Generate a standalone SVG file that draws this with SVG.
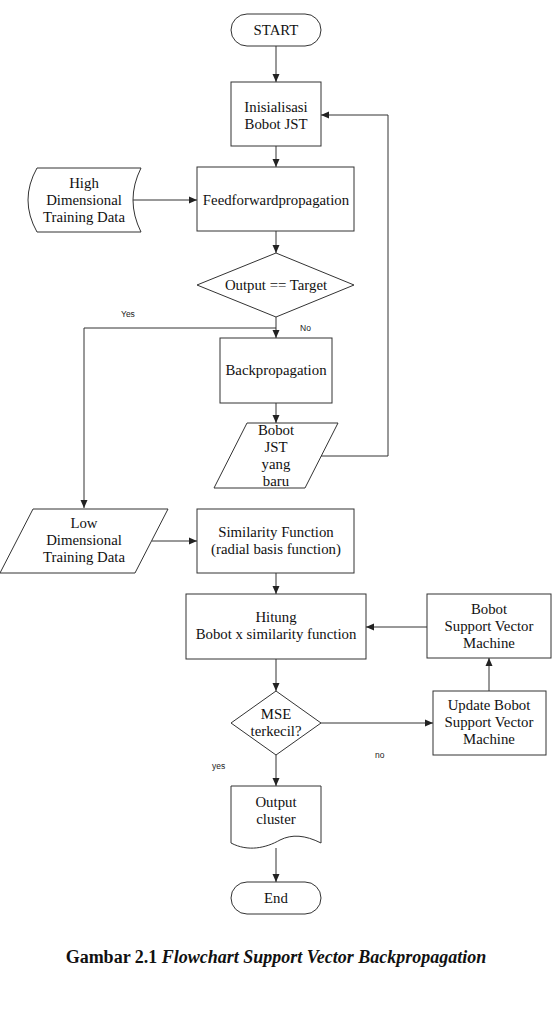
<svg xmlns="http://www.w3.org/2000/svg" width="554" height="1031" viewBox="0 0 554 1031">
<style>
.s{fill:#fff;stroke:#333;stroke-width:1}
.t{font-family:"Liberation Serif","Times New Roman",serif;font-size:14.8px;fill:#111;text-anchor:middle}
.l{font-family:"Liberation Sans",Arial,sans-serif;font-size:8.5px;fill:#222}
.c{fill:none;stroke:#333;stroke-width:1}
.cap{font-family:"Liberation Serif","Times New Roman",serif;font-size:18px;font-weight:bold;fill:#111;text-anchor:middle}
</style>
<defs>
<marker id="a" viewBox="0 0 8 8" refX="8" refY="4" markerWidth="8" markerHeight="8" markerUnits="userSpaceOnUse" orient="auto">
<path d="M0,0.5 L8,4 L0,7.5 Z" fill="#222"/>
</marker>
</defs>
<rect width="554" height="1031" fill="#fff"/>
<g id="connectors">
<path class="c" d="M276,46 V82" marker-end="url(#a)"/>
<path class="c" d="M276,146 V167" marker-end="url(#a)"/>
<path class="c" d="M133,200 H197" marker-end="url(#a)"/>
<path class="c" d="M276,231 V253" marker-end="url(#a)"/>
<path class="c" d="M276,317 V338" marker-end="url(#a)"/>
<path class="c" d="M276,328 H84 V508" marker-end="url(#a)"/>
<path class="c" d="M276,403 V423" marker-end="url(#a)"/>
<path class="c" d="M318,456 H388 V115 H321" marker-end="url(#a)"/>
<path class="c" d="M152,541 H197" marker-end="url(#a)"/>
<path class="c" d="M276,573 V594" marker-end="url(#a)"/>
<path class="c" d="M427,627 H366" marker-end="url(#a)"/>
<path class="c" d="M276,659 V691" marker-end="url(#a)"/>
<path class="c" d="M321,723 H433" marker-end="url(#a)"/>
<path class="c" d="M489,691 V658" marker-end="url(#a)"/>
<path class="c" d="M276,755 V786" marker-end="url(#a)"/>
<path class="c" d="M276,848 V882" marker-end="url(#a)"/>
<text class="l" x="121" y="317">Yes</text>
<text class="l" x="300" y="331">No</text>
<text class="l" x="375" y="758">no</text>
<text class="l" x="212" y="769">yes</text>
</g>
<g id="start">
<rect class="s" x="231" y="14" width="90" height="32" rx="16"/>
<text class="t" x="276" y="35">START</text>
</g>
<g id="init">
<rect class="s" x="231" y="82" width="90" height="64"/>
<text class="t" x="276" y="112">Inisialisasi</text>
<text class="t" x="276" y="129">Bobot JST</text>
</g>
<g id="highdata">
<path class="s" d="M37,168 H141 Q125,200 141,232 H37 Q19,200 37,168 Z"/>
<text class="t" x="84" y="188">High</text>
<text class="t" x="84" y="205">Dimensional</text>
<text class="t" x="84" y="222">Training Data</text>
</g>
<g id="feedforward">
<rect class="s" x="197" y="167" width="157" height="64"/>
<text class="t" x="276" y="205">Feedforwardpropagation</text>
</g>
<g id="decision1">
<path class="s" d="M276,253 L354,285 L276,317 L197,285 Z"/>
<text class="t" x="276" y="290">Output == Target</text>
</g>
<g id="backprop">
<rect class="s" x="220" y="338" width="112" height="65"/>
<text class="t" x="276" y="375">Backpropagation</text>
</g>
<g id="newweights">
<path class="s" d="M247,423 H338 L305,488 H214 Z"/>
<text class="t" x="276" y="435">Bobot</text>
<text class="t" x="276" y="452">JST</text>
<text class="t" x="276" y="469">yang</text>
<text class="t" x="276" y="486">baru</text>
</g>
<g id="lowdata">
<path class="s" d="M33,509 H168 L135,573 H0 Z"/>
<text class="t" x="84" y="528">Low</text>
<text class="t" x="84" y="545">Dimensional</text>
<text class="t" x="84" y="562">Training Data</text>
</g>
<g id="similarity">
<rect class="s" x="197" y="509" width="157" height="64"/>
<text class="t" x="276" y="537">Similarity Function</text>
<text class="t" x="276" y="554">(radial basis function)</text>
</g>
<g id="hitung">
<rect class="s" x="186" y="594" width="180" height="65"/>
<text class="t" x="276" y="622">Hitung</text>
<text class="t" x="276" y="639">Bobot x similarity function</text>
</g>
<g id="svmweights">
<rect class="s" x="427" y="594" width="124" height="64"/>
<text class="t" x="489" y="614">Bobot</text>
<text class="t" x="489" y="631">Support Vector</text>
<text class="t" x="489" y="648">Machine</text>
</g>
<g id="decision2">
<path class="s" d="M276,691 L321,723 L276,755 L231,723 Z"/>
<text class="t" x="276" y="719">MSE</text>
<text class="t" x="276" y="736">terkecil?</text>
</g>
<g id="update">
<rect class="s" x="433" y="691" width="113" height="64"/>
<text class="t" x="489" y="710">Update Bobot</text>
<text class="t" x="489" y="727">Support Vector</text>
<text class="t" x="489" y="744">Machine</text>
</g>
<g id="output">
<path class="s" d="M231,786 H321 V843 C305,835 292,834 280,840 C266,848 248,852 231,843 Z"/>
<text class="t" x="276" y="807">Output</text>
<text class="t" x="276" y="824">cluster</text>
</g>
<g id="end">
<rect class="s" x="231" y="882" width="90" height="32" rx="16"/>
<text class="t" x="276" y="903">End</text>
</g>
<text class="cap" x="276" y="963">Gambar 2.1 <tspan font-style="italic">Flowchart Support Vector Backpropagation</tspan></text>
</svg>
